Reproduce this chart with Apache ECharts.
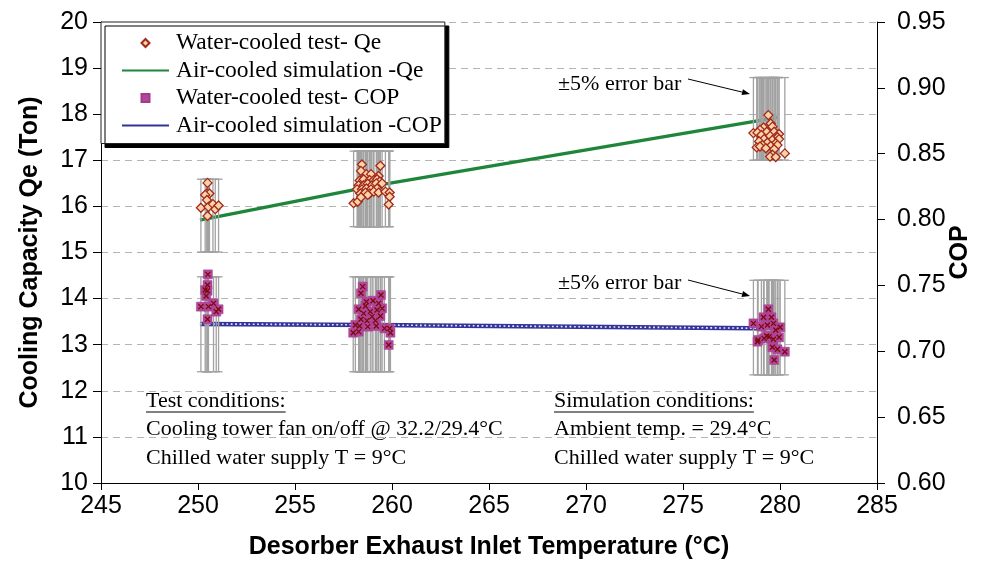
<!DOCTYPE html>
<html><head><meta charset="utf-8">
<script src="https://cdn.jsdelivr.net/npm/echarts@6/dist/echarts.min.js"></script>
<style>html,body{margin:0;padding:0;background:#fff}#c{width:984px;height:565px}</style>
</head><body><div id="c"></div>
<script>
// ---------- data ----------
const seriesNames = ['Water-cooled test- Qe','Air-cooled simulation -Qe','Water-cooled test- COP','Air-cooled simulation -COP'];

const qeTest250 = [[250.49,16.51],[250.46,16.28],[250.59,16.28],[250.37,16.25],[250.46,16.14],[250.15,15.97],[250.54,15.99],[250.77,16.05],[250.89,15.94],[251.06,16.02],[250.49,15.79]];
const qeTest259 = [[258.45,16.91],[259.40,16.88],[258.40,16.77],[258.68,16.70],[258.92,16.70],[259.31,16.66],[258.33,16.56],[258.54,16.59],[258.85,16.57],[259.06,16.57],[259.23,16.59],[259.37,16.54],[258.28,16.46],[258.54,16.46],[258.75,16.49],[258.97,16.46],[259.19,16.50],[259.49,16.50],[258.20,16.37],[258.45,16.37],[258.68,16.39],[258.92,16.37],[259.23,16.39],[258.37,16.28],[258.63,16.30],[258.85,16.28],[259.06,16.32],[259.31,16.30],[259.66,16.32],[259.88,16.30],[258.75,16.25],[259.88,16.21],[258.02,16.07],[258.23,16.10],[259.83,16.04],[258.40,16.20]];
const qeTest280 = [[279.40,17.98],[279.52,17.80],[279.61,17.73],[279.15,17.71],[278.97,17.66],[278.63,17.59],[278.84,17.60],[279.32,17.62],[279.70,17.62],[279.95,17.57],[279.04,17.55],[279.49,17.53],[279.87,17.50],[279.18,17.46],[279.61,17.44],[279.95,17.46],[278.92,17.41],[279.35,17.38],[279.78,17.37],[279.09,17.33],[279.52,17.31],[279.87,17.33],[278.80,17.28],[278.97,17.30],[279.27,17.26],[279.70,17.24],[279.61,17.12],[279.49,17.08],[279.78,17.07],[280.25,17.15]];

const copTest250 = [[250.51,0.7584],[250.49,0.7503],[250.37,0.7465],[250.49,0.7460],[250.42,0.7420],[250.15,0.7339],[250.54,0.7339],[250.80,0.7364],[250.94,0.7301],[251.06,0.7319],[250.49,0.7243]];
const copTest259 = [[258.49,0.7491],[259.43,0.7427],[258.40,0.7440],[258.68,0.7377],[259.02,0.7384],[259.31,0.7364],[258.28,0.7319],[258.63,0.7344],[259.23,0.7313],[259.49,0.7326],[258.88,0.7301],[258.40,0.7243],[258.71,0.7233],[259.14,0.7233],[259.40,0.7268],[258.11,0.7200],[258.33,0.7192],[258.75,0.7187],[259.19,0.7192],[259.61,0.7174],[259.88,0.7174],[258.00,0.7141],[258.28,0.7149],[259.92,0.7141],[259.83,0.7048],[258.97,0.7263],[258.54,0.7288]];
const copTest280 = [[279.40,0.7319],[279.15,0.7258],[279.56,0.7258],[278.63,0.7212],[279.04,0.7187],[279.35,0.7200],[279.66,0.7212],[280.01,0.7182],[279.78,0.7162],[278.87,0.7086],[279.18,0.7098],[279.44,0.7111],[279.66,0.7091],[279.95,0.7106],[279.61,0.7030],[279.87,0.7015],[280.25,0.6997],[279.70,0.6934],[279.32,0.7116],[278.84,0.7073]];

const qeSim  = [[250.1,15.70],[259.0,16.44],[279.9,17.93]];
const copSim = [[250.1,0.7208],[259.0,0.7200],[280.2,0.7173]];

const qeBarCenters  = [15.80, 16.38, 17.90];
const copBarCenters = [0.7205, 0.7205, 0.7180];
const errorPct = 0.05;

// ---------- helpers ----------
function buildBars(groups, centers){
  const out = [];
  groups.forEach((g,i)=>g.forEach(p=>out.push([p[0], centers[i]*(1-errorPct), centers[i]*(1+errorPct)])));
  return out;
}
const qeBars  = buildBars([qeTest250, qeTest259, qeTest280], qeBarCenters);
const copBars = buildBars([copTest250, copTest259, copTest280], copBarCenters);
const qeTest  = qeTest250.concat(qeTest259, qeTest280);
const copTest = copTest250.concat(copTest259, copTest280);

function renderBar(params, api){
  const x = api.value(0), lo = api.value(1), hi = api.value(2);
  const a = api.coord([x, hi]), b = api.coord([x, lo]);
  const cap = 4, st = {stroke:'#a2a2a2', lineWidth:1.3};
  return {type:'group', children:[
    {type:'line', shape:{x1:a[0],y1:a[1],x2:b[0],y2:b[1]}, style:st},
    {type:'line', shape:{x1:a[0]-cap,y1:a[1],x2:a[0]+cap,y2:a[1]}, style:st},
    {type:'line', shape:{x1:b[0]-cap,y1:b[1],x2:b[0]+cap,y2:b[1]}, style:st}
  ]};
}

const SANS = 'Liberation Sans, Arial, sans-serif';
const SERIF = 'Liberation Serif, Times New Roman, serif';

const mctx = document.createElement('canvas').getContext('2d');
function textW(t, font){ mctx.font = font; return mctx.measureText(t).width; }
const serifFont = '22px "Liberation Serif"';

function arrow(x1,y1,x2,y2){
  const dx=x2-x1, dy=y2-y1, L=Math.hypot(dx,dy), ux=dx/L, uy=dy/L;
  const bx=x2-ux*8, by=y2-uy*8, px=-uy*3, py=ux*3;
  return [
    {type:'line', shape:{x1,y1,x2:bx,y2:by}, style:{stroke:'#000', lineWidth:1}},
    {type:'polygon', shape:{points:[[x2,y2],[bx+px,by+py],[bx-px,by-py]]}, style:{fill:'#000'}}
  ];
}
function txt(t,x,y){ return {type:'text', x, y, style:{text:t, font:serifFont, fill:'#000', verticalAlign:'middle', align:'left'}}; }
function underline(t,x,y){ return {type:'line', shape:{x1:x, y1:y, x2:x+textW(t,serifFont), y2:y}, style:{stroke:'#000', lineWidth:1}}; }

const chart = echarts.init(document.getElementById('c'), null, {renderer:'canvas'});
chart.setOption({
  animation:false,
  backgroundColor:'#fff',
  grid:{left:101, right:107, top:22, bottom:82, containLabel:false, outerBoundsMode:'none'},
  legend:{
    data:[
      {name:seriesNames[0], icon:'path://M5,0L10,5L5,10L0,5Z'},
      {name:seriesNames[1], itemStyle:{opacity:0}},
      {name:seriesNames[2], icon:'path://M0,0H10V10H0Z'},
      {name:seriesNames[3], itemStyle:{opacity:0}}
    ],
    orient:'vertical', left:101, top:22,
    padding:[9,3,6,20], itemGap:3.5, itemWidth:47, itemHeight:8,
    backgroundColor:'#fff', borderColor:'#222', borderWidth:1,
    shadowColor:'#000', shadowOffsetX:4, shadowOffsetY:4, shadowBlur:0,
    textStyle:{fontFamily:SERIF, fontSize:23.5, color:'#000', padding:[0,0,0,2]},
    selectedMode:false
  },
  xAxis:{
    type:'value', min:245, max:285, interval:5,
    name:'Desorber Exhaust Inlet Temperature (°C)', nameLocation:'middle', nameGap:52,
    nameTextStyle:{fontFamily:SANS, fontSize:25, fontWeight:'bold', color:'#000'},
    axisLine:{show:true, onZero:false, lineStyle:{color:'#000', width:1}},
    axisTick:{show:true, inside:false, length:7, lineStyle:{color:'#000'}},
    axisLabel:{fontFamily:SANS, fontSize:25, color:'#000', margin:11},
    splitLine:{show:false}
  },
  yAxis:[{
    type:'value', min:10, max:20, interval:1,
    name:'Cooling Capacity Qe (Ton)', nameLocation:'middle', nameGap:58, nameRotate:90,
    nameTextStyle:{fontFamily:SANS, fontSize:25, fontWeight:'bold', color:'#000'},
    axisLine:{show:true, onZero:false, lineStyle:{color:'#000', width:1}},
    axisTick:{show:true, inside:false, length:8, lineStyle:{color:'#000'}},
    axisLabel:{fontFamily:SANS, fontSize:25, color:'#000', margin:13},
    splitLine:{show:true, lineStyle:{color:'#b4b4b4', type:[7,5], width:1}}
  },{
    type:'value', position:'right', min:0.6, max:0.95, interval:0.05,
    name:'COP', nameLocation:'middle', nameGap:71, nameRotate:90, nameMoveOverlap:false,
    nameTextStyle:{fontFamily:SANS, fontSize:25, fontWeight:'bold', color:'#000'},
    axisLine:{show:true, onZero:false, lineStyle:{color:'#000', width:1}},
    axisTick:{show:true, inside:false, length:8, lineStyle:{color:'#000'}},
    axisLabel:{fontFamily:SANS, fontSize:25, color:'#000', margin:20, formatter:v=>v.toFixed(2)},
    splitLine:{show:false}
  }],
  series:[
    {name:seriesNames[1], type:'line', data:qeSim, yAxisIndex:0, symbol:'none', showSymbol:false, z:1,
     lineStyle:{color:'#1f853a', width:3.3}, itemStyle:{color:'#1f853a'}},
    {name:seriesNames[3], type:'line', data:copSim, yAxisIndex:1, symbol:'none', showSymbol:false, z:1,
     lineStyle:{color:'#333399', width:4.5}, itemStyle:{color:'#333399'}},
    {name:'copSimDots', type:'line', data:copSim, yAxisIndex:1, symbol:'none', showSymbol:false, z:1,
     lineStyle:{color:'#e8e8ff', width:1.6, type:[1.8,2.6]}, silent:true},
    {name:'qeErr', type:'custom', data:qeBars, yAxisIndex:0, renderItem:renderBar, encode:{x:0, y:[1,2]}, z:2, silent:true},
    {name:'copErr', type:'custom', data:copBars, yAxisIndex:1, renderItem:renderBar, encode:{x:0, y:[1,2]}, z:2, silent:true},
    {name:seriesNames[0], type:'scatter', data:qeTest, yAxisIndex:0, symbol:'diamond', symbolSize:9, z:3,
     itemStyle:{color:'#fcd3a4', borderColor:'#a0281e', borderWidth:1.3, opacity:1}},
    {name:seriesNames[2], type:'scatter', data:copTest, yAxisIndex:1, symbol:'rect', symbolSize:9, z:3,
     itemStyle:{color:'#b4479c', borderColor:'#a03c8c', borderWidth:0.5, opacity:1}},
    {name:'copX', type:'scatter', data:copTest, yAxisIndex:1, symbol:'path://M0,0L10,10M10,0L0,10', symbolSize:5, z:4, silent:true,
     itemStyle:{color:'rgba(0,0,0,0)', borderColor:'#7a0a0a', borderWidth:1.3, opacity:1}}
  ],
  graphic:{elements:[
    txt('±5% error bar', 558, 84),
    ...arrow(688,79,750,94),
    txt('±5% error bar', 558, 283),
    ...arrow(688,280,750,296),
    txt('Test conditions:', 146, 401),
    underline('Test conditions:', 146, 412),
    txt('Cooling tower fan on/off @ 32.2/29.4°C', 146, 429),
    txt('Chilled water supply T = 9°C', 146, 458),
    txt('Simulation conditions:', 554, 401),
    underline('Simulation conditions:', 554, 412),
    txt('Ambient temp. = 29.4°C', 554, 429),
    txt('Chilled water supply T = 9°C', 554, 458)
  ]}
});
</script></body></html>
